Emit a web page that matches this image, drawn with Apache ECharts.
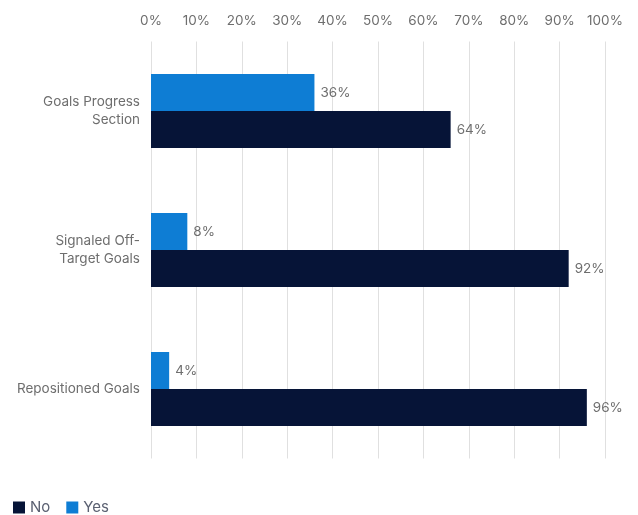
<!DOCTYPE html>
<html>
<head>
<meta charset="utf-8">
<script src="https://cdn.jsdelivr.net/npm/echarts@6/dist/echarts.min.js"></script>
<style>html,body{margin:0;padding:0;background:#fff}#c{width:638px;height:515px}</style>
</head>
<body>
<div id="c"></div>
<script>
var categories = ['Goals Progress\nSection', 'Signaled Off-\nTarget Goals', 'Repositioned Goals'];
var noValues = [66, 92, 96];
var noLabels = ['64%', '92%', '96%'];
var yesValues = [36, 8, 4];
var yesLabels = ['36%', '8%', '4%'];
var xTicks = [0, 10, 20, 30, 40, 50, 60, 70, 80, 90, 100];

var font = 'Inter, "Liberation Sans", sans-serif';
var chart = echarts.init(document.getElementById('c'));
chart.setOption({
  animation: false,
  textStyle: { fontFamily: font },
  grid: { left: 151, right: 33, top: 41.5, bottom: 56.5, containLabel: false },
  legend: {
    data: ['No', 'Yes'],
    left: 13, bottom: 0, padding: 0,
    itemWidth: 12, itemHeight: 12, itemGap: 16,
    icon: 'rect',
    textStyle: { color: '#5b6172', fontSize: 15, fontFamily: font }
  },
  xAxis: {
    type: 'value', position: 'top', min: xTicks[0], max: xTicks[xTicks.length - 1], interval: 10,
    axisLine: { show: false }, axisTick: { show: false },
    splitLine: { show: true, lineStyle: { color: '#e0e0e0', width: 1 } },
    axisLabel: { color: '#6e6e6e', fontSize: 13.5, margin: 14, formatter: function (v) { return v + '%'; } }
  },
  yAxis: {
    type: 'category', data: categories, inverse: true,
    axisLine: { show: false }, axisTick: { show: false },
    axisLabel: { color: '#6e6e6e', fontSize: 13.5, margin: 11, lineHeight: 18, align: 'right' }
  },
  series: [
    {
      name: 'Yes', type: 'bar', data: yesValues, barWidth: 37, barGap: '0%',
      itemStyle: { color: '#0e7dd4' },
      label: { show: true, position: 'right', distance: 6, color: '#6e6e6e', fontSize: 13.5,
        formatter: function (p) { return yesLabels[p.dataIndex]; } }
    },
    {
      name: 'No', type: 'bar', data: noValues, barWidth: 37, barGap: '0%',
      itemStyle: { color: '#061437' },
      label: { show: true, position: 'right', distance: 6, color: '#6e6e6e', fontSize: 13.5,
        formatter: function (p) { return noLabels[p.dataIndex]; } }
    }
  ]
});
</script>
</body>
</html>
